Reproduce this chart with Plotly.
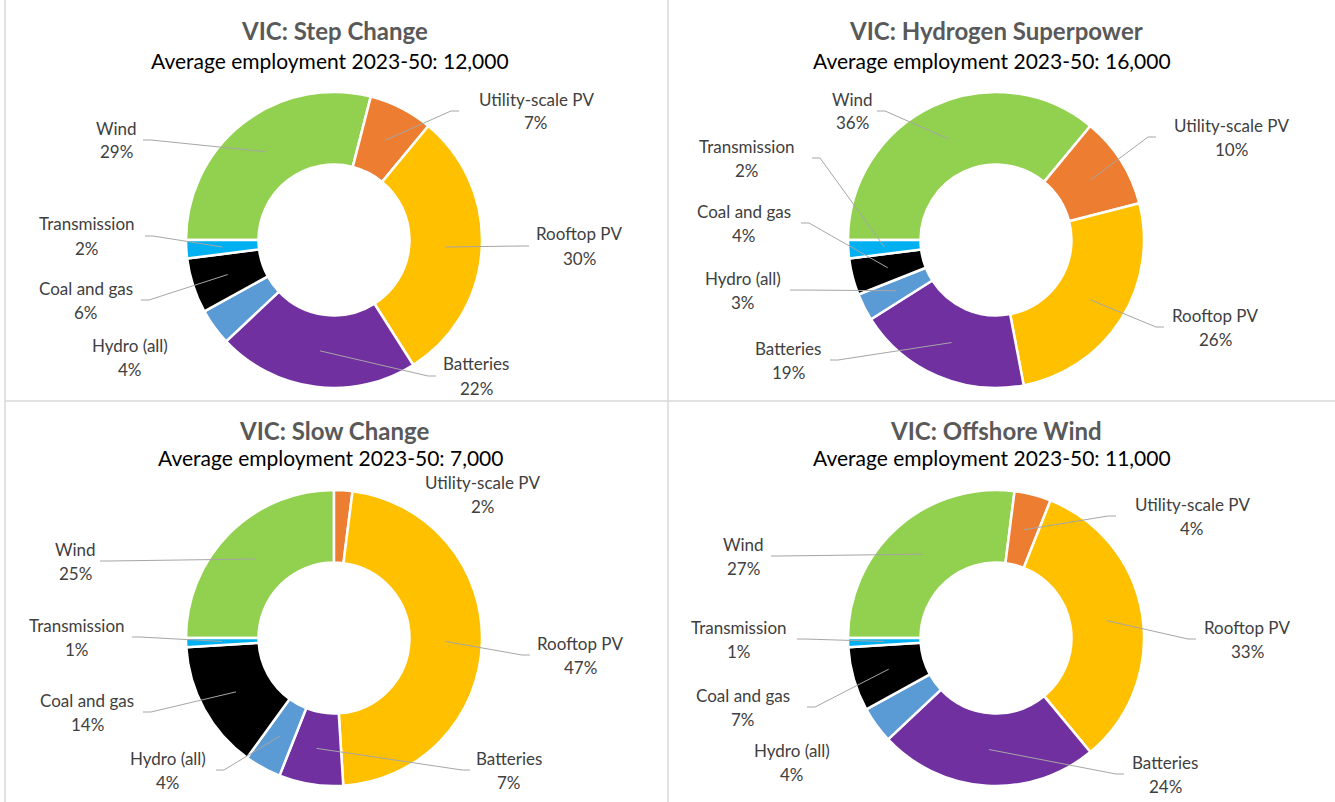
import math
import plotly.graph_objects as go

# ---------------- data ----------------
CATEGORIES = ["Wind", "Utility-scale PV", "Rooftop PV", "Batteries",
              "Hydro (all)", "Coal and gas", "Transmission"]
STEP_CHANGE = [29, 7, 30, 22, 4, 6, 2]
HYDROGEN_SUPERPOWER = [36, 10, 26, 19, 3, 4, 2]
SLOW_CHANGE = [25, 2, 47, 7, 4, 14, 1]
OFFSHORE_WIND = [27, 4, 33, 24, 4, 7, 1]
SCENARIOS = ["Step Change", "Hydrogen Superpower", "Slow Change", "Offshore Wind"]
EMPLOYMENT = ["12,000", "16,000", "7,000", "11,000"]
SERIES = [STEP_CHANGE, HYDROGEN_SUPERPOWER, SLOW_CHANGE, OFFSHORE_WIND]

# ---------------- style / layout ----------------
COLORS = ["#92D050", "#ED7D31", "#FFC000", "#7030A0", "#5B9BD5", "#000000", "#00B0F0"]
W, H = 1335, 802
R = 148
HOLE = 0.51
FONT = "Lato"
CENTERS = [(334, 240), (996, 240), (334, 638), (996, 638)]
TITLE_Y = [30, 30, 430, 430]
SUB_Y = [60, 60, 458, 458]

# label block offsets from pie centre (dx, dy, leader-end dx or None)
LABEL_POS = [
    [(-218, -100, -191), (202, -129, 125), (245, 6, 195), (142, 136, 102),
     (-204, 117, None), (-248, 60, -193), (-247, -4, -189)],
    [(-144, -129, -119), (235, -103, 160), (219, 87, 168), (-208, 120, -166),
     (-253, 50, -206), (-252, -17, -195), (-249, -82, -184)],
    [(-259, -77, -234), (149, -144, None), (246, 17, 196), (175, 132, 136),
     (-166, 132, -118), (-247, 74, -191), (-257, -1, -202)],
    [(-253, -82, -225), (196, -122, 120), (251, 1, 200), (169, 136, 128),
     (-204, 124, None), (-253, 69, -189), (-257, 1, -199)],
]


def px(x):
    return x / W


def py(y):
    return 1 - y / H


fig = go.Figure()
annotations = []
shapes = []

for i, (name, emp, vals) in enumerate(zip(SCENARIOS, EMPLOYMENT, SERIES)):
    cx, cy = CENTERS[i]
    fig.add_trace(go.Pie(
        labels=CATEGORIES, values=vals, hole=HOLE, sort=False,
        direction="clockwise", rotation=270,
        marker=dict(colors=COLORS, line=dict(color="white", width=2.5)),
        textinfo="none", hoverinfo="label+percent", showlegend=False,
        domain=dict(x=[px(cx - R), px(cx + R)], y=[py(cy + R), py(cy - R)]),
    ))
    annotations.append(dict(
        x=px(cx), y=py(TITLE_Y[i]), xref="paper", yref="paper",
        text=f"<b>VIC: {name}</b>", showarrow=False,
        font=dict(family=FONT, size=24, color="#595959"),
        xanchor="center", yanchor="middle"))
    annotations.append(dict(
        x=px(cx - 4), y=py(SUB_Y[i]), xref="paper", yref="paper",
        text=f"Average employment 2023-50: {emp}", showarrow=False,
        font=dict(family=FONT, size=21, color="#000000"),
        xanchor="center", yanchor="middle"))

    total = sum(vals)
    cum = 0.0
    for j, (cat, v) in enumerate(zip(CATEGORIES, vals)):
        mid = 270 + (cum + v / 2) / total * 360
        cum += v
        pct = f"{round(v / total * 100)}%"
        ldx, ldy, edx = LABEL_POS[i][j]
        lx, ly = cx + ldx, cy + ldy
        for txt, off in ((cat, -12), (pct, 12)):
            annotations.append(dict(
                x=px(lx), y=py(ly + off), xref="paper", yref="paper",
                text=txt, showarrow=False,
                font=dict(family=FONT, size=17, color="#404040"),
                xanchor="center", yanchor="middle"))
        if edx is not None:
            rr = (1 + HOLE) / 2 * R
            a = math.radians(mid)
            sx, sy = cx + rr * math.sin(a), cy - rr * math.cos(a)
            ex, ey = cx + edx, ly
            sign = 1 if sx > ex else -1
            bx = ex + sign * 8
            path = (f"M {px(sx)} {py(sy)} L {px(bx)} {py(ey)} L {px(ex)} {py(ey)}")
            shapes.append(dict(type="path", path=path, xref="paper", yref="paper",
                               line=dict(color="#A6A6A6", width=1)))

# panel separators
GRID = "#D9D9D9"
shapes += [
    dict(type="line", xref="paper", yref="paper", x0=px(5), x1=px(5), y0=0, y1=1,
         line=dict(color=GRID, width=1.5)),
    dict(type="line", xref="paper", yref="paper", x0=px(668), x1=px(668), y0=0, y1=1,
         line=dict(color=GRID, width=1.5)),
    dict(type="line", xref="paper", yref="paper", x0=px(5), x1=1, y0=py(401), y1=py(401),
         line=dict(color=GRID, width=1.5)),
]

fig.update_layout(
    width=W, height=H, margin=dict(l=0, r=0, t=0, b=0),
    paper_bgcolor="white", plot_bgcolor="white",
    annotations=annotations, shapes=shapes,
    font=dict(family=FONT),
)

fig.write_html("out.html", config={"displayModeBar": False},
               post_script="document.body.style.margin='0';")
